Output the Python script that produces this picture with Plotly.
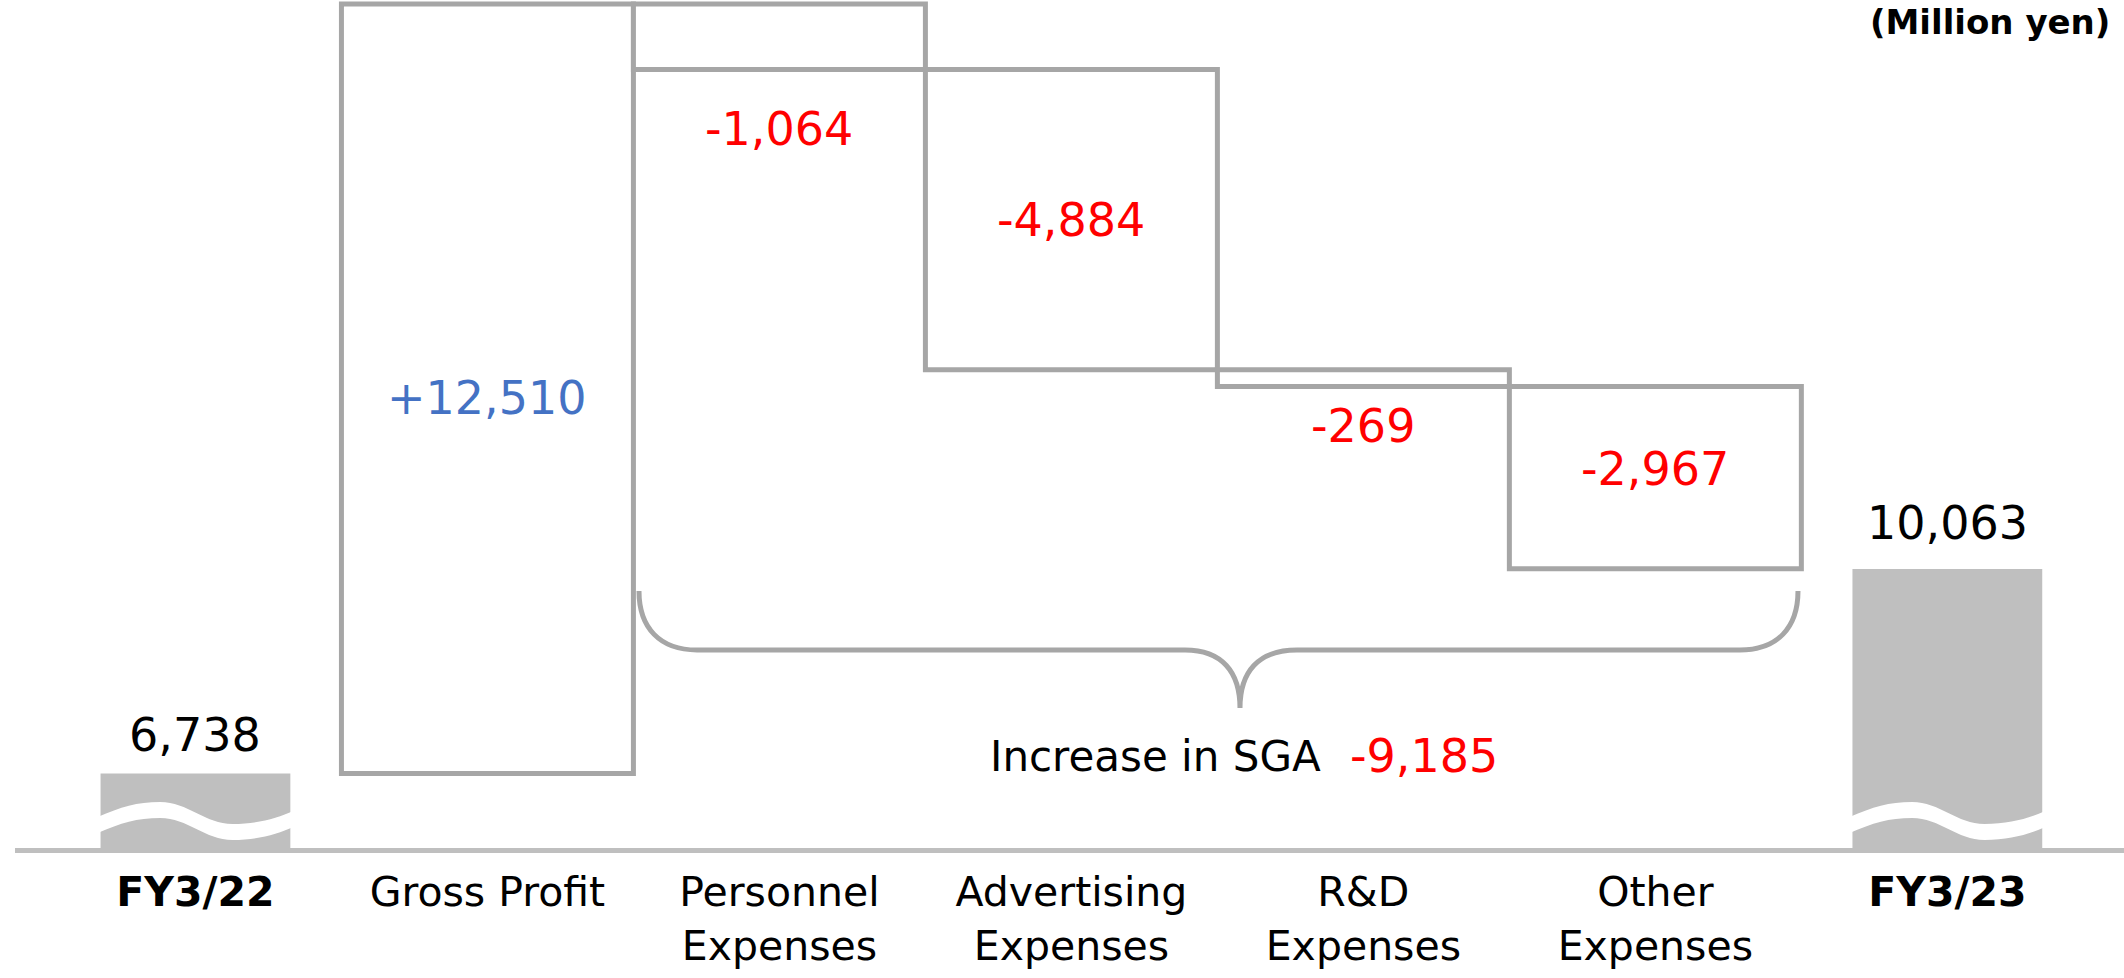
import numpy as np
import plotly.graph_objects as go

# ---------------- data ----------------
categories = ["<b>FY3/22</b>", "Gross Profit", "Personnel<br>Expenses",
              "Advertising<br>Expenses", "R&D<br>Expenses", "Other<br>Expenses",
              "<b>FY3/23</b>"]
start_value = 6738
changes = [12510, -1064, -4884, -269, -2967]
end_value = 10063
sga_label = "Increase in SGA"
sga_total = -9185
unit_label = "(Million yen)"

# ---------------- styles ----------------
FONT = "DejaVu Sans"
FILL_GRAY = "#BFBFBF"
LINE_GRAY = "#A6A6A6"
RED = "#FF0000"
BLUE = "#4472C4"
W, H = 2124, 978
ML, MR, MT, MB = 15, 0, 0, 130
PW, PH = W - ML - MR, H - MT - MB
Y_RANGE = [5525, 19314]
X_RANGE = [-0.618, 6.605]


def paper_x(xp):
    return (xp - ML) / PW


def paper_y(yp):
    return (PH + MT - yp) / PH


x_pos = np.arange(len(categories))
bases = start_value + np.concatenate([[0], np.cumsum(changes)[:-1]])
tops = bases + np.array(changes)

fig = go.Figure()
# start / end totals (filled)
fig.add_trace(go.Bar(
    x=[x_pos[0], x_pos[-1]], y=[start_value, end_value], width=0.65,
    marker=dict(color=FILL_GRAY, line=dict(width=0)), hoverinfo="skip"))
# change boxes (outlined)
fig.add_trace(go.Bar(
    x=x_pos[1:-1], y=changes, base=bases, width=1.0,
    marker=dict(color="white", line=dict(color=LINE_GRAY, width=5)),
    hoverinfo="skip"))

annotations = []
# total labels
for xi, val, shift in [(x_pos[0], start_value, 38), (x_pos[-1], end_value, 46)]:
    annotations.append(dict(x=xi, y=val, xref="x", yref="y", text=f"{val:,}",
                            showarrow=False, yanchor="middle", yshift=shift,
                            font=dict(family=FONT, size=46, color="black")))
# change labels
modes = ["mid", "below", "mid", "below", "mid"]
shifts = [-9, -60, 0, -40, 9]
for i, ch in enumerate(changes):
    if modes[i] == "mid":
        yv = bases[i] + ch / 2
    else:
        yv = min(bases[i], tops[i])
    txt = f"+{ch:,}" if ch > 0 else f"{ch:,}"
    annotations.append(dict(x=x_pos[i + 1], y=yv, xref="x", yref="y", text=txt,
                            showarrow=False, yanchor="middle", yshift=shifts[i],
                            font=dict(family=FONT, size=46,
                                      color=BLUE if ch > 0 else RED)))
# SGA note
annotations.append(dict(x=paper_x(1323), y=paper_y(756), xref="paper", yref="paper",
                        text=sga_label, showarrow=False, xanchor="right",
                        yanchor="middle",
                        font=dict(family=FONT, size=42, color="black")))
annotations.append(dict(x=paper_x(1348), y=paper_y(756), xref="paper", yref="paper",
                        text=f"{sga_total:,}", showarrow=False, xanchor="left",
                        yanchor="middle",
                        font=dict(family=FONT, size=46, color=RED)))
# unit label
annotations.append(dict(x=paper_x(2112), y=1, xref="paper", yref="paper",
                        text=f"<b>{unit_label}</b>", showarrow=False,
                        xanchor="right", yanchor="top", yshift=0,
                        font=dict(family=FONT, size=34, color="black")))

shapes = []
# wavy break on the filled bars
wave_upper = [(0, 817), (0.12, 807), (0.20, 802), (0.32, 802),
              (0.46, 802), (0.55, 824), (0.69, 824),
              (0.82, 824), (0.92, 818), (1, 811)]
for xi in (x_pos[0], x_pos[-1]):
    left = xi - 0.65 / 2 - 0.01
    wdt = 0.65 + 0.02

    def P(f, yp):
        return f"{left + f * wdt:.5f},{paper_y(yp):.5f}"
    up = wave_upper
    d = f"M {P(*up[0])} C {P(*up[1])} {P(*up[2])} {P(*up[3])} " \
        f"C {P(*up[4])} {P(*up[5])} {P(*up[6])} C {P(*up[7])} {P(*up[8])} {P(*up[9])} "
    lo = [(f, yp + 16) for f, yp in up][::-1]
    d += f"L {P(*lo[0])} C {P(*lo[1])} {P(*lo[2])} {P(*lo[3])} " \
         f"C {P(*lo[4])} {P(*lo[5])} {P(*lo[6])} C {P(*lo[7])} {P(*lo[8])} {P(*lo[9])} Z"
    shapes.append(dict(type="path", xref="x", yref="paper", path=d,
                       fillcolor="white", line=dict(width=0), layer="above"))


def Q(xp, yp):
    return f"{paper_x(xp):.5f},{paper_y(yp):.5f}"


brace = (f"M {Q(639, 591)} C {Q(639, 628)} {Q(660, 650)} {Q(697, 650)} "
         f"L {Q(1185, 650)} C {Q(1222, 650)} {Q(1240, 672)} {Q(1240, 708)} "
         f"C {Q(1240, 672)} {Q(1258, 650)} {Q(1297, 650)} "
         f"L {Q(1740, 650)} C {Q(1777, 650)} {Q(1798, 628)} {Q(1798, 591)}")
shapes.append(dict(type="path", xref="paper", yref="paper", path=brace,
                   line=dict(color=LINE_GRAY, width=5)))

fig.update_layout(
    width=W, height=H, margin=dict(l=ML, r=MR, t=MT, b=MB, autoexpand=False),
    paper_bgcolor="white", plot_bgcolor="white",
    barmode="overlay", showlegend=False,
    xaxis=dict(range=X_RANGE, tickmode="array", tickvals=x_pos, ticktext=categories,
               showgrid=False, zeroline=False, showline=True, linecolor=FILL_GRAY,
               linewidth=5, ticks="", ticklabelstandoff=4, automargin=False,
               tickfont=dict(family=FONT, size=41, color="black")),
    yaxis=dict(range=Y_RANGE, visible=False, showgrid=False, zeroline=False,
               automargin=False),
    annotations=annotations, shapes=shapes,
)

fig.write_html("out.html")
